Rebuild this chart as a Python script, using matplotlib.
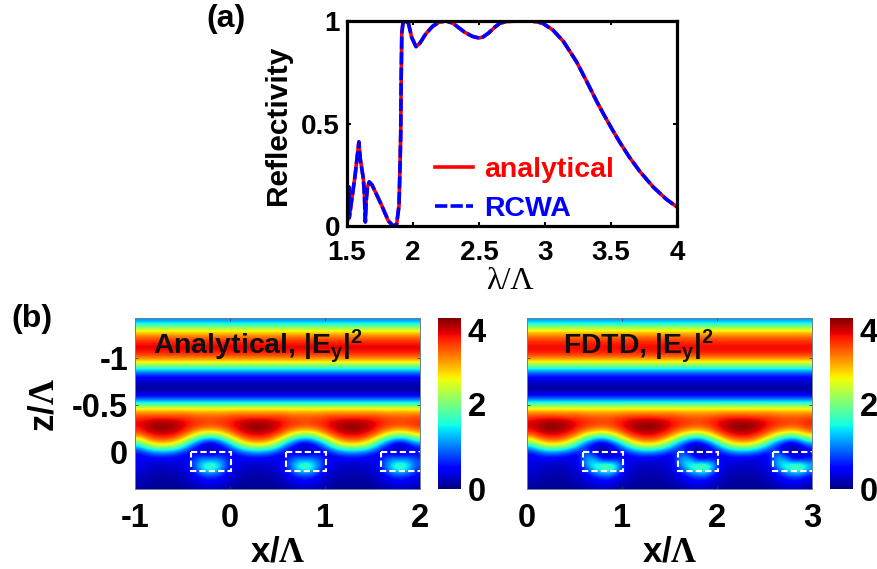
import numpy as np
import matplotlib
matplotlib.use('Agg')
import matplotlib.pyplot as plt
from matplotlib.patches import Rectangle

plt.rcParams['font.family'] = ['Liberation Sans', 'DejaVu Sans']
plt.rcParams['font.weight'] = 'bold'
plt.rcParams['axes.labelweight'] = 'bold'
plt.rcParams['axes.unicode_minus'] = False
plt.rcParams['mathtext.fontset'] = 'custom'
plt.rcParams['mathtext.rm'] = 'Liberation Sans:bold'
plt.rcParams['mathtext.bf'] = 'Liberation Sans:bold'
plt.rcParams['mathtext.it'] = 'Liberation Sans:bold'
plt.rcParams['mathtext.cal'] = 'Liberation Serif'

# (a) reflectivity curve
wl = [1.5, 1.507, 1.515, 1.517, 1.53, 1.56, 1.59, 1.6, 1.624, 1.632, 1.639, 1.645, 1.655, 1.669,
      1.69, 1.712, 1.763, 1.813, 1.851, 1.876, 1.894, 1.902, 1.907, 1.91, 1.915, 1.925, 1.94,
      1.965, 1.99, 2.023, 2.05, 2.1, 2.15, 2.2, 2.25, 2.3, 2.39, 2.45, 2.5, 2.53, 2.57, 2.62, 2.66,
      2.72, 2.8, 2.9, 2.98, 3.06, 3.14, 3.24, 3.32, 3.39, 3.44, 3.51, 3.57, 3.64, 3.72, 3.82, 3.92, 4.0]
refl = [0.0, 0.08, 0.19, 0.04, 0.1, 0.24, 0.41, 0.33, 0.23, 0.15, 0.02, 0.12, 0.19, 0.215,
        0.2, 0.17, 0.1, 0.025, 0.0, 0.008, 0.1, 0.3, 0.45, 0.69, 0.94, 0.995, 1.0,
        0.99, 0.92, 0.875, 0.89, 0.94, 0.975, 0.995, 1.0, 0.99, 0.946, 0.925, 0.917, 0.922, 0.94, 0.97, 0.99,
        0.998, 1.0, 1.0, 0.99, 0.956, 0.9, 0.8, 0.7, 0.61, 0.55, 0.47, 0.405, 0.335, 0.265, 0.19, 0.13, 0.093]

# (b) |Ey|^2: stripes above the grating, one period below it
stripes_an = [1.05, 1.8, 2.55, 3.05, 3.4, 3.65, 3.6, 3.3, 2.8, 2.0, 1.2, 0.6, 0.3, 0.13, 0.13, 0.5, 1.2, 2.1]
stripes_fd = [1.1, 1.85, 2.6, 3.1, 3.4, 3.6, 3.6, 3.3, 2.75, 1.95, 1.15, 0.6, 0.3, 0.15, 0.15, 0.55, 1.25, 2.15]
period_an = [
    [2.9, 2.9, 2.9, 2.9, 2.9, 2.9, 2.9, 2.85, 2.85, 2.85, 2.85, 2.85],
    [3.3, 3.3, 3.3, 3.3, 3.3, 3.3, 3.3, 3.25, 3.2, 3.2, 3.2, 3.25],
    [3.6, 3.7, 3.8, 3.8, 3.8, 3.7, 3.6, 3.45, 3.4, 3.35, 3.4, 3.45],
    [3.6, 3.8, 3.9, 3.95, 3.9, 3.8, 3.6, 3.4, 3.3, 3.25, 3.3, 3.4],
    [3.4, 3.65, 3.8, 3.85, 3.8, 3.65, 3.4, 3.05, 2.8, 2.7, 2.8, 3.05],
    [2.9, 3.3, 3.5, 3.55, 3.5, 3.3, 2.9, 2.35, 1.9, 1.7, 1.9, 2.35],
    [2.1, 2.7, 3.0, 3.1, 3.0, 2.7, 2.1, 1.4, 0.9, 0.65, 0.9, 1.4],
    [1.3, 1.9, 2.2, 2.3, 2.2, 1.9, 1.3, 0.7, 0.35, 0.15, 0.35, 0.7],
    [0.65, 1.0, 1.2, 1.3, 1.2, 1.0, 0.65, 0.4, 0.3, 0.2, 0.3, 0.4],
    [0.4, 0.5, 0.6, 0.6, 0.6, 0.5, 0.4, 0.6, 0.75, 0.6, 0.75, 0.6],
    [0.4, 0.35, 0.35, 0.35, 0.35, 0.35, 0.4, 0.8, 1.2, 1.3, 1.2, 0.8],
    [0.4, 0.3, 0.25, 0.25, 0.25, 0.3, 0.4, 0.8, 1.5, 2.0, 1.5, 0.8],
    [0.3, 0.25, 0.2, 0.2, 0.2, 0.25, 0.3, 0.6, 1.1, 1.3, 1.1, 0.6],
    [0.25, 0.2, 0.15, 0.15, 0.15, 0.2, 0.25, 0.4, 0.65, 0.75, 0.65, 0.4],
    [0.2, 0.15, 0.1, 0.1, 0.1, 0.15, 0.2, 0.3, 0.4, 0.45, 0.4, 0.3],
    [0.15, 0.1, 0.1, 0.1, 0.1, 0.1, 0.15, 0.2, 0.25, 0.3, 0.25, 0.2],
]
period_fd = [
    [2.9, 2.9, 2.9, 2.9, 2.9, 2.9, 2.9, 2.85, 2.85, 2.85, 2.85, 2.85],
    [3.3, 3.35, 3.35, 3.35, 3.3, 3.3, 3.3, 3.25, 3.2, 3.2, 3.2, 3.25],
    [3.65, 3.75, 3.85, 3.85, 3.8, 3.7, 3.55, 3.45, 3.4, 3.35, 3.4, 3.5],
    [3.7, 3.85, 3.95, 3.95, 3.9, 3.75, 3.55, 3.4, 3.3, 3.25, 3.3, 3.45],
    [3.5, 3.7, 3.85, 3.85, 3.75, 3.6, 3.3, 3.0, 2.8, 2.7, 2.85, 3.15],
    [3.0, 3.35, 3.5, 3.55, 3.45, 3.2, 2.8, 2.25, 1.85, 1.7, 1.95, 2.45],
    [2.2, 2.75, 3.0, 3.05, 2.95, 2.55, 1.95, 1.3, 0.85, 0.6, 0.95, 1.5],
    [1.35, 1.9, 2.2, 2.25, 2.1, 1.75, 1.15, 0.65, 0.3, 0.1, 0.3, 0.75],
    [0.7, 1.0, 1.2, 1.25, 1.1, 0.9, 0.6, 0.7, 0.4, 0.1, 0.2, 0.4],
    [0.4, 0.5, 0.6, 0.55, 0.55, 0.45, 0.4, 1.1, 0.9, 0.3, 0.3, 0.5],
    [0.35, 0.35, 0.35, 0.3, 0.3, 0.3, 0.4, 1.2, 1.4, 0.9, 0.9, 0.9],
    [0.35, 0.3, 0.25, 0.25, 0.25, 0.3, 0.4, 1.0, 1.6, 1.9, 2.1, 1.3],
    [0.3, 0.25, 0.2, 0.2, 0.2, 0.25, 0.3, 0.6, 1.1, 1.4, 1.5, 0.9],
    [0.25, 0.2, 0.15, 0.15, 0.15, 0.2, 0.25, 0.4, 0.6, 0.8, 0.8, 0.5],
    [0.2, 0.15, 0.1, 0.1, 0.1, 0.15, 0.2, 0.3, 0.4, 0.45, 0.45, 0.3],
    [0.15, 0.1, 0.1, 0.1, 0.1, 0.1, 0.15, 0.2, 0.25, 0.3, 0.25, 0.2],
]
z_range = [-1.43, 0.39]
rect_left = [0.59, 1.59, 2.59]


def make_axes(left, top, right, bottom):
    return fig.add_axes([left / 878, 1 - bottom / 569, (right - left) / 878, (bottom - top) / 569])


def field_panel(left, stripes, period, x0, ticks_x, title, title_x):
    ax = make_axes(left, 318, left + 285, 489)
    top = np.tile(np.array(stripes)[:, None], (1, 36))
    low = np.tile(np.array(period), (1, 3))
    field = np.vstack([top, low])
    im = ax.imshow(field, cmap='jet', vmin=0, vmax=4, aspect='auto', interpolation='bicubic',
                   extent=[x0, x0 + 3, z_range[1], z_range[0]])
    for r in rect_left:
        ax.add_patch(Rectangle((x0 + r, 0), 0.42, 0.2, fill=False, edgecolor='white',
                               lw=1.5, ls=(0, (3, 1.5))))
    ax.set_xticks(ticks_x)
    ax.set_yticks([-1, -0.5, 0])
    ax.set_yticklabels(['-1', '-0.5', '0'])
    ax.tick_params(direction='in', length=2, width=0.6, color='#404040', labelsize=23.5, top=True, right=True)
    ax.tick_params(axis='x', pad=10)
    ax.tick_params(axis='y', pad=5)
    for s in ax.spines.values():
        s.set_linewidth(0.7)
        s.set_color('#708090')
    ax.set_xlabel(r'x/$\mathcal{Λ}$', fontsize=25)
    ax.xaxis.set_label_coords(0.5, -0.27)
    ax.text(title_x, -1.13, title, fontsize=20.5, color='#101010', va='center')
    cax = make_axes(left + 303, 318, left + 326, 489)
    cb = fig.colorbar(im, cax=cax)
    cb.set_ticks([0, 2, 4])
    cb.ax.tick_params(length=0, labelsize=23.5, pad=5)
    cb.ax.get_yticklabels()[2].set_verticalalignment('top')
    cb.outline.set_visible(False)
    return ax


fig = plt.figure(figsize=(8.78, 5.69), dpi=100)

ax1 = make_axes(347, 21, 677, 226)
ax1.plot(wl, refl, color='red', lw=2.6, label='analytical')
ax1.plot(wl, refl, color='blue', lw=2.6, ls=(0, (3.4, 0.9)), label='RCWA')
ax1.set_xlim(1.5, 4)
ax1.set_ylim(0, 1)
ax1.set_xticks([1.5, 2, 2.5, 3, 3.5, 4])
ax1.set_xticklabels(['1.5', '2', '2.5', '3', '3.5', '4'])
ax1.set_yticks([0, 0.5, 1])
ax1.set_yticklabels(['0', '0.5', '1'])
ax1.tick_params(direction='in', length=3, width=1.5, labelsize=20, top=True, right=True)
ax1.tick_params(axis='x', pad=10)
ax1.tick_params(axis='y', pad=5)
for s in ax1.spines.values():
    s.set_linewidth(2.3)
ax1.set_xlabel('λ/Λ', fontsize=23, family='Liberation Serif', weight='normal')
ax1.xaxis.set_label_coords(0.494, -0.2)
ax1.set_ylabel('Reflectivity', fontsize=21.5)
ax1.yaxis.set_label_coords(-0.168, 0.49)
leg = ax1.legend(loc='lower left', bbox_to_anchor=(0.19, -0.105), frameon=False, fontsize=20.5,
                 labelcolor='linecolor', handlelength=1.33, handletextpad=0.4, labelspacing=0.46)

ax2 = field_panel(135, stripes_an, period_an, -1, [-1, 0, 1, 2], r'Analytical, $|E_y|^2$', -0.81)
ax2.set_ylabel(r'z/$\mathcal{Λ}$', fontsize=25)
ax2.yaxis.set_label_coords(-0.263, 0.49)
ax3 = field_panel(527, stripes_fd, period_fd, 0, [0, 1, 2, 3], r'FDTD, $|E_y|^2$', 0.38)
ax3.set_yticklabels([])

fig.text(206 / 878, 1 - 19 / 569, '(a)', fontsize=23, va='center')
fig.text(11 / 878, 1 - 319 / 569, '(b)', fontsize=23, va='center')

fig.savefig('out.png', dpi=100)
